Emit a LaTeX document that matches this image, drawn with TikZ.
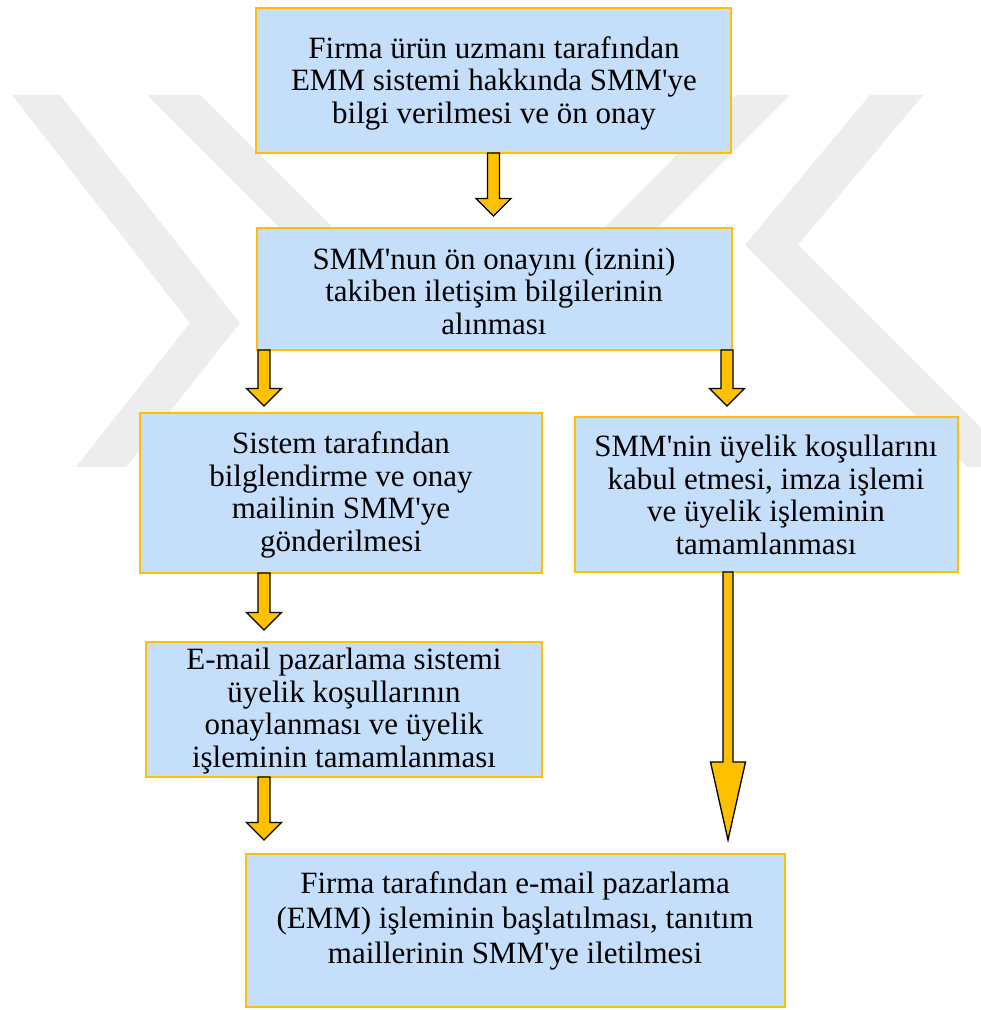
\documentclass[tikz,border=0pt]{standalone}
\usepackage{fontspec}
\setmainfont{Liberation Serif}[Ligatures=TeXOff]
\usetikzlibrary{calc}

\definecolor{boxfill}{RGB}{197,222,250}
\definecolor{boxline}{RGB}{255,192,0}
\definecolor{arrowfill}{RGB}{255,192,0}
\definecolor{wmgray}{RGB}{237,237,237}

\tikzset{
  stepbox/.style={draw=boxline, fill=boxfill, line width=1.5pt, inner sep=0pt, outer sep=0pt},
  boxtext/.style={align=center, inner sep=0pt, font=\fontsize{31}{32.5}\selectfont},
  arrowstyle/.style={fill=arrowfill, draw=black, line width=1.3pt, line join=miter},
  wmark/.style={fill=wmgray, draw=none}
}

% block arrow: start point, tip, head length, half shaft width
\newcommand{\blockarrow}[4]{%
  \filldraw[arrowstyle] ($(#1)+(-#4,0)$) -- ($(#2)+(-#4,#3)$) -- ($(#2)+(-17.5,#3)$)
    -- (#2) -- ($(#2)+(17.5,#3)$) -- ($(#2)+(#4,#3)$) -- ($(#1)+(#4,0)$) -- cycle;}

\newcommand{\gap}{\hspace{0.25em}}

\begin{document}
\begin{tikzpicture}[x=1pt,y=1pt]
  \fill[white] (0,0) rectangle (981,1010);
  \useasboundingbox (0,0) rectangle (981,1010);

  % faint background emblem
  \fill[wmark] (12,915) -- (60,915) -- (240,687) -- (126,543) -- (76,543) -- (190,687) -- cycle;
  \fill[wmark] (870,915) -- (923,915) -- (798,765) -- (981,582) -- (981,543) -- (967,543) -- (745,765) -- cycle;
  \fill[wmark] (147,915) -- (200,915) -- (405,710) -- (352,710) -- cycle;
  \fill[wmark] (737,915) -- (790,915) -- (585,710) -- (532,710) -- cycle;

  % process boxes
  \node[stepbox, minimum width=475pt, minimum height=145pt] (b1) at (493.5,929.5) {};
  \node[stepbox, minimum width=475pt, minimum height=122pt] (b2) at (494.5,721) {};
  \node[stepbox, minimum width=402pt, minimum height=160pt] (b3) at (341,517) {};
  \node[stepbox, minimum width=383pt, minimum height=155pt] (b4) at (766.5,515.5) {};
  \node[stepbox, minimum width=396pt, minimum height=135pt] (b5) at (344,300.5) {};
  \node[stepbox, minimum width=539pt, minimum height=153pt] (b6) at (515.5,79.5) {};

  % arrow end points
  \coordinate (a1s) at (b1.south);
  \coordinate (a1e) at ($(a1s |- b2.north)+(0,12)$);
  \coordinate (a2s) at ($(b2.south west)+(7,0)$);
  \coordinate (a2e) at ($(a2s |- b3.north)+(0,7)$);
  \coordinate (a3s) at ($(b2.south east)+(-5,0)$);
  \coordinate (a3e) at ($(a3s |- b4.north)+(0,11)$);
  \coordinate (a4s) at ($(b3.south west)+(124,0)$);
  \coordinate (a4e) at ($(a4s |- b5.north)+(0,12)$);
  \coordinate (a5s) at ($(b5.south west)+(118,0)$);
  \coordinate (a5e) at ($(a5s |- b6.north)+(0,14)$);
  \coordinate (a6s) at ($(b4.south west)+(153,0)$);
  \coordinate (a6e) at ($(a6s |- b6.north)+(0,14)$);

  \blockarrow{a1s}{a1e}{17.5}{6}
  \blockarrow{a2s}{a2e}{17.5}{6}
  \blockarrow{a3s}{a3e}{17.5}{6}
  \blockarrow{a4s}{a4e}{17.5}{6}
  \blockarrow{a5s}{a5e}{17.5}{6}
  \blockarrow{a6s}{a6e}{78}{5}

  % box texts
  \node[boxtext] (t1) at (494,927) {Firma ürün uzmanı tarafından\\EMM sistemi\gap hakkında SMM'ye\\bilgi verilmesi\gap ve ön onay};
  \node[boxtext] (t2) at (494,719) {SMM'nun ön onayını (iznini)\\takiben iletişim\gap bilgilerinin\\alınması};
  \node[boxtext] (t3) at (341,515) {Sistem tarafından\\bilglendirme\gap ve onay\\mailinin SMM'ye\\gönderilmesi};
  \node[boxtext] (t4) at (766,515) {SMM'nin üyelik koşullarını\\kabul etmesi,\gap imza işlemi\\ve üyelik işleminin\\tamamlanması};
  \node[boxtext] (t5) at (344,299) {E-mail pazarlama sistemi\\üyelik koşullarının\\onaylanması ve üyelik\\işleminin tamamlanması};
  \node[boxtext, font=\fontsize{31}{35}\selectfont] (t6) at (515,89.5) {Firma tarafından e-mail pazarlama\\(EMM) işleminin başlatılması, tanıtım\\maillerinin SMM'ye iletilmesi};
\end{tikzpicture}
\end{document}
